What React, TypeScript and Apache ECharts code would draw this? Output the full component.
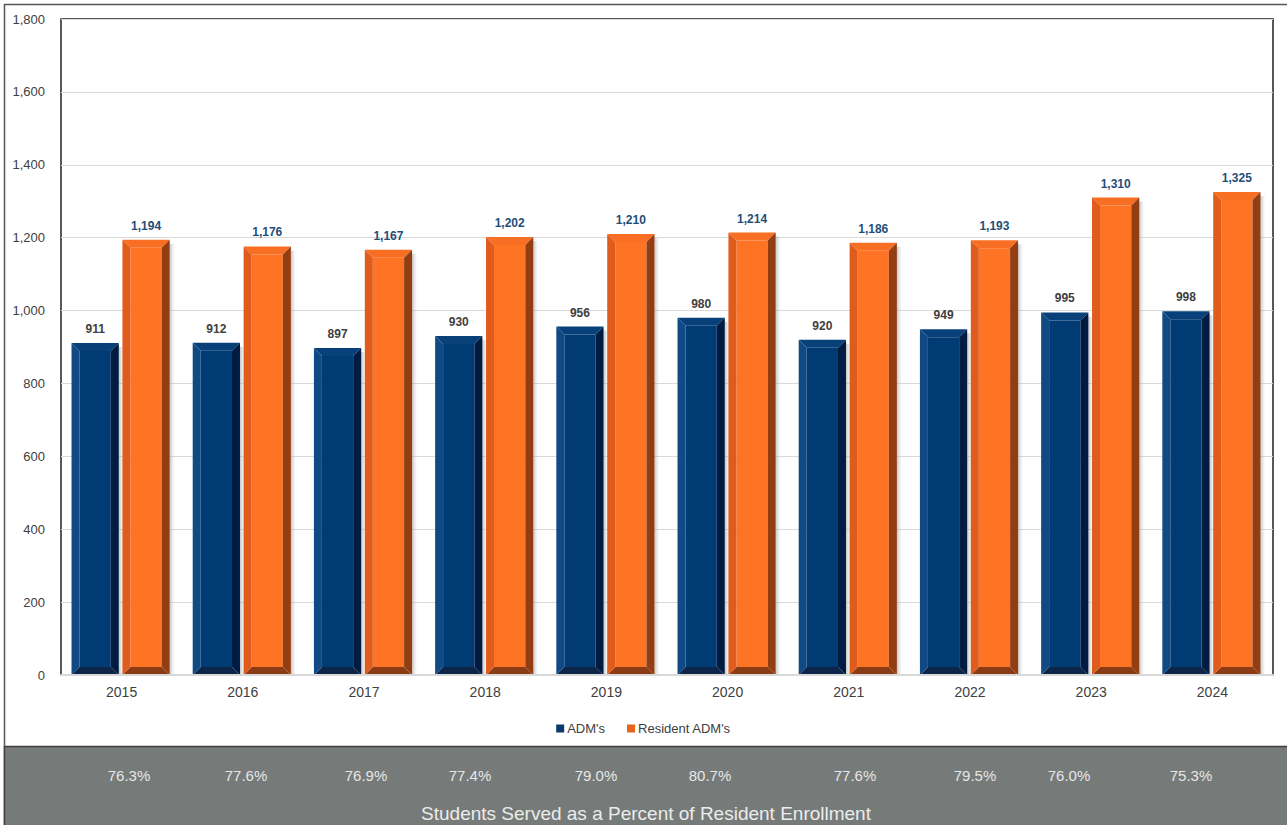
import React, { useEffect, useRef } from "react";
import * as echarts from "echarts";

const years = ["2015", "2016", "2017", "2018", "2019", "2020", "2021", "2022", "2023", "2024"];
const adms = [911, 912, 897, 930, 956, 980, 920, 949, 995, 998];
const residentAdms = [1194, 1176, 1167, 1202, 1210, 1214, 1186, 1193, 1310, 1325];
const percents = ["76.3%", "77.6%", "76.9%", "77.4%", "79.0%", "80.7%", "77.6%", "79.5%", "76.0%", "75.3%"];
const percentX = [129, 246, 366, 470, 596, 710, 855, 975, 1069, 1191];
const bandTitle = "Students Served as a Percent of Resident Enrollment";

const FONT = "'Liberation Sans', Arial, sans-serif";

type Pal = { face: string; top: string; left: string; right: string; bottom: string; label: string };
const navy: Pal = { face: "#003b73", top: "#08407a", left: "#104a84", right: "#001c42", bottom: "#0c2549", label: "#404040" };
const orange: Pal = { face: "#ff7324", top: "#f86e22", left: "#e05c1c", right: "#933e12", bottom: "#8c3c14", label: "#1f4e79" };

function makeRender(side: number, pal: Pal) {
  return (params: any, api: any) => {
    const cat = api.value(0);
    const val = api.value(1);
    const topPt = api.coord([cat, val]);
    const basePt = api.coord([cat, 0]);
    const band = api.size([1, 0])[0];
    const bw = band * 0.39;
    const gap = band * 0.03;
    const cx = topPt[0] - 1 + side * (bw / 2 + gap / 2);
    const x0 = cx - bw / 2;
    const x1 = cx + bw / 2;
    const y0 = topPt[1];
    const y1 = basePt[1];
    const s = 8;
    const t = 8;
    const poly = (pts: number[][], fill: string) => ({
      type: "polygon",
      shape: { points: pts },
      style: { fill, stroke: null },
    });
    return {
      type: "group",
      children: [
        {
          type: "rect",
          shape: { x: x1, y: y0 + 4, width: 5, height: y1 - y0 - 4 },
          style: {
            fill: new echarts.graphic.LinearGradient(0, 0, 1, 0, [
              { offset: 0, color: "rgba(150,150,150,0.55)" },
              { offset: 1, color: "rgba(200,200,200,0)" },
            ]),
          },
        },
        { type: "rect", shape: { x: x0 + s, y: y0 + t, width: bw - 2 * s, height: y1 - y0 - 2 * t }, style: { fill: pal.face } },
        poly([[x0, y0], [x1, y0], [x1 - s, y0 + t], [x0 + s, y0 + t]], pal.top),
        poly([[x0, y1], [x1, y1], [x1 - s, y1 - t], [x0 + s, y1 - t]], pal.bottom),
        poly([[x0, y0], [x0 + s, y0 + t], [x0 + s, y1 - t], [x0, y1]], pal.left),
        poly([[x1, y0], [x1 - s, y0 + t], [x1 - s, y1 - t], [x1, y1]], pal.right),
        {
          type: "text",
          x: cx,
          y: y0 - 8,
          style: {
            text: val.toLocaleString("en-US"),
            fill: pal.label,
            font: `bold 12px ${FONT}`,
            textAlign: "center",
            textVerticalAlign: "bottom",
          },
        },
      ],
    };
  };
}

export default function App() {
  const ref = useRef<HTMLDivElement>(null);
  useEffect(() => {
    if (!ref.current) return;
    const chart = echarts.init(ref.current, null, { renderer: "svg" });
    const graphics: any[] = [
      {
        type: "rect",
        shape: { x: 4.5, y: 4.5, width: 1290, height: 830 },
        style: { fill: "none", stroke: "#555", lineWidth: 1.5 },
        z: -10,
      },
      {
        type: "rect",
        shape: { x: 4.5, y: 746.5, width: 1290, height: 90 },
        style: { fill: "#767b79", stroke: "#3f3f3f", lineWidth: 1.5 },
        z: -5,
      },
      {
        type: "text",
        x: 646,
        y: 813,
        style: { text: bandTitle, fill: "#ececec", font: `19px ${FONT}`, textAlign: "center", textVerticalAlign: "middle" },
      },
      ...percents.map((p, i) => ({
        type: "text",
        x: percentX[i],
        y: 775,
        style: { text: p, fill: "#e6e6e6", font: `15px ${FONT}`, textAlign: "center", textVerticalAlign: "middle" },
      })),
    ];
    chart.setOption({
      animation: false,
      backgroundColor: "#ffffff",
      grid: {
        left: 61,
        right: 14,
        top: 19,
        bottom: 150,
        show: true,
        borderColor: "#222",
        borderWidth: 1.5,
        backgroundColor: "transparent",
      },
      legend: {
        data: ["ADM's", "Resident ADM's"],
        top: 717,
        left: "center",
        itemWidth: 8,
        itemHeight: 8,
        itemGap: 22,
        icon: "rect",
        textStyle: { fontFamily: FONT, fontSize: 13, color: "#404040", padding: [0, 0, 0, -2] },
      },
      xAxis: {
        type: "category",
        data: years,
        axisLine: { show: true, lineStyle: { color: "#d9d9d9", width: 2 } },
        axisTick: { show: false },
        axisLabel: { color: "#404040", fontFamily: FONT, fontSize: 14, margin: 10 },
        z: 5,
      },
      yAxis: {
        type: "value",
        min: 0,
        max: 1800,
        interval: 200,
        axisLine: { show: false },
        axisTick: { show: false },
        axisLabel: {
          color: "#404040",
          fontFamily: FONT,
          fontSize: 13,
          margin: 16,
          formatter: (v: number) => v.toLocaleString("en-US"),
        },
        splitLine: { show: true, lineStyle: { color: "#d9d9d9", width: 1 } },
      },
      series: [
        {
          name: "ADM's",
          type: "custom",
          itemStyle: { color: "#0b3a6e" },
          renderItem: makeRender(-1, navy),
          encode: { x: 0, y: 1 },
          data: adms.map((v, i) => [i, v]),
          z: 3,
        },
        {
          name: "Resident ADM's",
          type: "custom",
          itemStyle: { color: "#e8641c" },
          renderItem: makeRender(1, orange),
          encode: { x: 0, y: 1 },
          data: residentAdms.map((v, i) => [i, v]),
          z: 3,
        },
      ],
      graphic: graphics,
    });
    return () => chart.dispose();
  }, []);
  return (
    <div
      ref={ref}
      style={{ position: "fixed", left: 0, top: 0, width: 1287, height: 825, background: "#fff" }}
    />
  );
}
